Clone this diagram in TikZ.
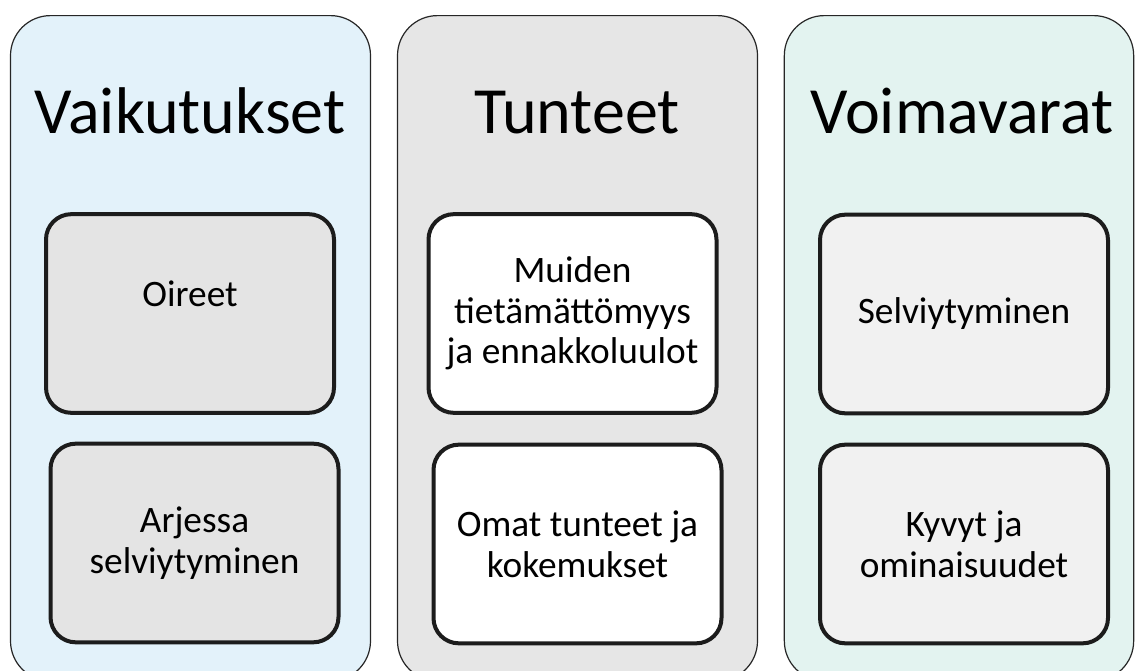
\documentclass[tikz,border=0pt]{standalone}
\usepackage{fontspec}
\setmainfont{Carlito}
\usepackage{xcolor}
\usetikzlibrary{positioning}
\definecolor{paleblue}{HTML}{E3F2FA}
\definecolor{palegray}{HTML}{E6E6E6}
\definecolor{paleteal}{HTML}{E3F3F0}
\definecolor{boxgray}{HTML}{E4E4E4}
\definecolor{boxlight}{HTML}{F1F1F1}
\definecolor{edgedark}{HTML}{1C1C1C}

\begin{document}
\begin{tikzpicture}
  [
    x=0.75pt, y=-0.75pt,
    Panel/.style={rectangle, rounded corners=30pt, draw=black!85, line width=0.9pt, minimum height=499pt, anchor=north},
    Title/.style={anchor=base, font=\fontsize{49.5}{58}\selectfont},
    Item/.style={rectangle, rounded corners=19pt, draw=edgedark, line width=3pt, minimum width=216pt, minimum height=149pt, align=center, inner sep=2pt, font=\fontsize{28}{30.5}\selectfont}
  ]
  \useasboundingbox (0,0) rectangle (1135,671);
  \clip (0,0) rectangle (1135,671);
  % Panels
  \node[Panel, fill=paleblue, minimum width=270pt] (p1) at(190.5, 15) {};
  \node[Panel, fill=palegray, minimum width=270pt] (p2) at(577.5, 15) {};
  \node[Panel, fill=paleteal, minimum width=262pt] (p3) at(959, 15) {};
  % Titles
  \node[Title] (t1) at(190, 133) {Vaikutukset};
  \node[Title] (t2) at(577, 133) {Tunteet};
  \node[Title] (t3) at(962, 133) {Voimavarat};
  % Boxes
  \node[Item, fill=boxgray] (v1) at(190, 313.5) {Oireet\\~};
  \node[Item, fill=boxgray] (v2) at(194.5, 543) {Arjessa\\selviytyminen};
  \node[Item, fill=white] (t1a) at(572.5, 313.5) {Muiden\\tietämättömyys\\ja ennakkoluulot};
  \node[Item, fill=white] (t2a) at(577.5, 544) {Omat tunteet ja\\kokemukset};
  \node[Item, fill=boxlight] (r1) at(964, 314) {Selviytyminen};
  \node[Item, fill=boxlight] (r2) at(964, 544) {Kyvyt ja\\ominaisuudet};
\end{tikzpicture}
\end{document}
